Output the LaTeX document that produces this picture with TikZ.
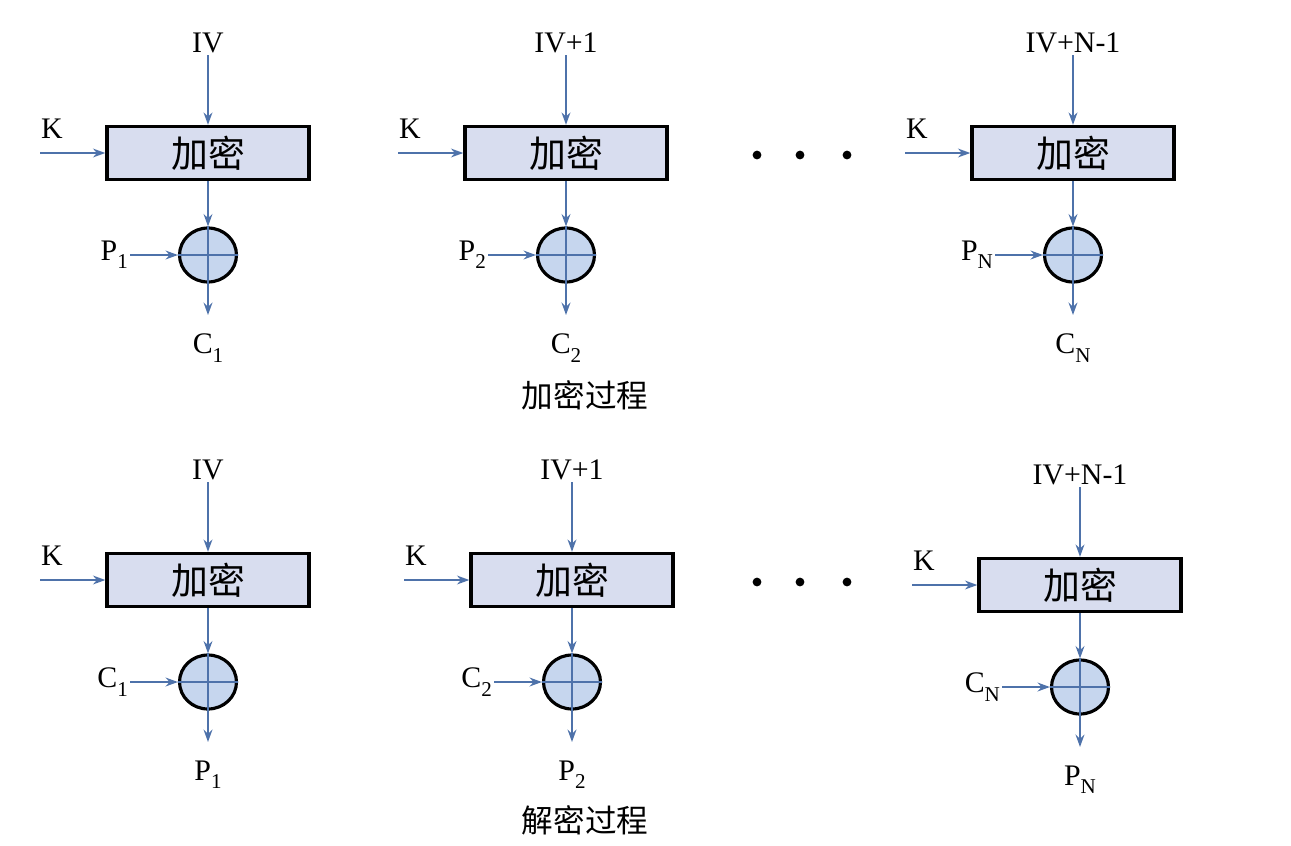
\documentclass[tikz,border=0pt]{standalone}
\usepackage{fontspec}
\setmainfont{Liberation Serif}
\newfontfamily\cjk{Noto Sans CJK SC}
\usetikzlibrary{shapes.geometric,arrows.meta}

\definecolor{flowblue}{HTML}{4E72AA}
\definecolor{boxfill}{HTML}{D8DDEF}
\definecolor{xorfill}{HTML}{C6D6EE}
\newcommand\lowsub[1]{\raisebox{-0.6ex}{\fontsize{12}{12}\selectfont #1}}

\tikzset{
    encbox/.style={draw,line width=1.9pt,fill=boxfill,minimum width=4.04cm,minimum height=1.06cm,
        font=\cjk\fontsize{21}{21}\selectfont},
    xorop/.style={ellipse,draw,line width=1.8pt,fill=xorfill,minimum width=1.14cm,minimum height=1.08cm,inner sep=0pt},
    flow/.style={-{Stealth[length=7pt,width=5pt]},line width=1.2pt,flowblue},
    lab/.style={font=\fontsize{17}{17}\selectfont,inner sep=1pt},
    stagecaption/.style={font=\cjk\fontsize{18}{18}\selectfont},
    dot/.style={circle,fill,inner sep=0pt,minimum size=5pt},
}

\begin{document}
\begin{tikzpicture}[x=0.02cm,y=-0.02cm]
    \useasboundingbox (0,0) rectangle (1291,845);
    % one block per stage: name / x / y / counter / input / output
    \foreach \n/\bx/\by/\ctr/\inp/\outp in {
        ea/208/153/IV/{P\lowsub{1}}/{C\lowsub{1}},
        eb/566/153/IV+1/{P\lowsub{2}}/{C\lowsub{2}},
        ec/1073/153/IV+N-1/{P\lowsub{N}}/{C\lowsub{N}},
        da/208/580/IV/{C\lowsub{1}}/{P\lowsub{1}},
        db/572/580/IV+1/{C\lowsub{2}}/{P\lowsub{2}},
        dc/1080/585/IV+N-1/{C\lowsub{N}}/{P\lowsub{N}}}
    {
        \node[encbox] (box\n) at (\bx,\by) {加密};
        \node[xorop] (xor\n) at (\bx,\by+102) {};
        \node[lab] (ctr\n) at (\bx,\by-110) {\ctr};
        \node[lab] (k\n) at (\bx-156,\by-24) {K};
        \coordinate (kin\n) at (\bx-168,\by);
        \node[lab,anchor=east] (in\n) at (\bx-78,\by+102) {\inp};
        \coordinate (end\n) at (\bx,\by+162);
        \node[lab] (out\n) at (\bx,\by+195) {\outp};
        \draw[flow] (ctr\n.south) -- (box\n.north);
        \draw[flow] (kin\n) -- (box\n.west);
        \draw[flow] (box\n.south) -- (xor\n.north);
        \draw[flow] (in\n.east) -- (xor\n.west);
        \draw[flowblue,line width=1pt] (xor\n.north) -- (xor\n.south) (xor\n.west) -- (xor\n.east);
        \draw[flow] (xor\n.south) -- (end\n);
    }
    % the dots between the stages
    \foreach \r/\y in {t/155,b/582}
        \foreach \i/\x in {1/757,2/800,3/847}
            \node[dot] (dot\r\i) at (\x,\y) {};
    \node[stagecaption] (enccap) at (585,395) {加密过程};
    \node[stagecaption] (deccap) at (585,820) {解密过程};
\end{tikzpicture}
\end{document}
